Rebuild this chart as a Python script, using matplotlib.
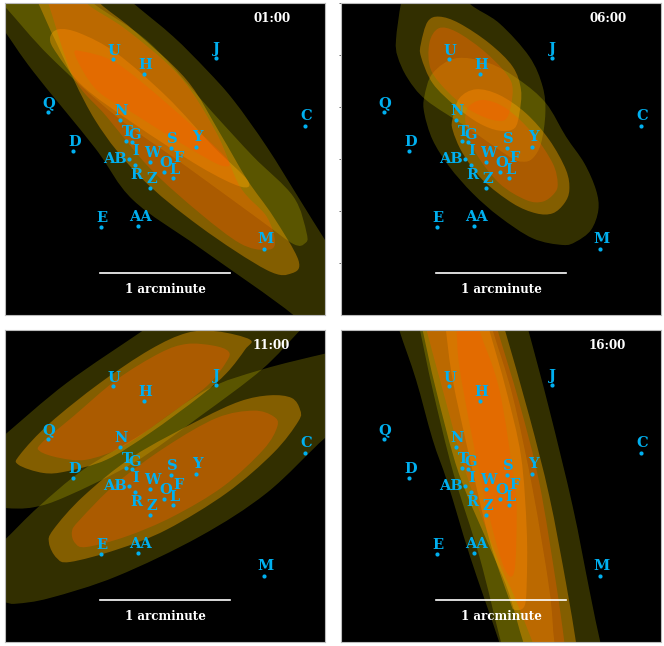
import numpy as np
import matplotlib
matplotlib.use("Agg")
import matplotlib.pyplot as plt
from matplotlib.path import Path
from matplotlib.patches import PathPatch

W, H = 664, 646
# all coordinates below are map units (1/3 of a pixel), x right, y down
SPAN_X, SPAN_Y = 960, 936

times = ["01:00", "06:00", "11:00", "16:00"]
origins = [(15, 10), (25, 10), (15, 22), (25, 22)]
corners = [(5, 3.3), (341, 3.3), (5, 330.3), (341, 330.3)]

# sources, measured on the first panel
star_names = ["U", "H", "J", "Q", "N", "C", "T", "G", "D", "S", "Y", "AB", "I", "W", "O", "L", "Z", "AA", "E", "M"]
star_x = [340, 432, 648, 143, 359, 915, 377, 395, 220, 513, 588, 388, 406, 451, 493, 519, 451, 415, 302, 793]
star_y = [178, 222, 173, 337, 361, 377, 423, 427, 454, 445, 441, 477, 495, 486, 515, 535, 564, 677, 680, 746]

label_names = ["U", "H", "J", "Q", "N", "C", "T", "G", "D", "S", "Y", "AB", "I", "W", "F", "O", "L", "R", "Z", "AA", "E", "M"]
label_x = [343, 436, 650, 147, 363, 919, 381, 405, 225, 516, 593, 346, 406, 456, 536, 496, 523, 410, 456, 420, 307, 797]
label_y = [152, 196, 148, 311, 333, 349, 395, 406, 427, 416, 412, 477, 454, 459, 474, 489, 509, 526, 537, 650, 653, 718]

# 01:00 contours
a_outer_1 = [(-100, -60), (320, -60), (400, 10), (520, 110), (620, 210), (700, 300), (800, 440), (900, 600), (975, 720), (1060, 850), (1120, 1040), (960, 1040), (880, 945), (600, 744), (399, 600), (285, 444), (100, 215), (15, 95), (-40, 20)]
a_outer_2 = [(-60, -60), (220, -60), (280, 10), (450, 130), (640, 340), (760, 470), (880, 590), (920, 700), (915, 730), (880, 732), (780, 660), (560, 500), (350, 350), (150, 170), (15, 20)]
a_mid_1 = [(170, 130), (115, 10), (85, -50), (260, -50), (300, 10), (400, 90), (560, 240), (660, 400), (742, 540), (820, 650), (895, 780), (875, 820), (800, 810), (600, 680), (420, 530), (285, 360)]
a_mid_2 = [(150, 115), (175, 88), (240, 100), (350, 160), (500, 290), (640, 440), (742, 540), (722, 560), (600, 500), (400, 370), (250, 260), (170, 160)]
a_inner_1 = [(220, 230), (145, 10), (120, -50), (240, -50), (260, 10), (380, 90), (540, 230), (650, 400), (720, 560), (800, 650), (825, 730), (795, 750), (720, 730), (600, 640), (450, 505), (320, 350)]
a_inner_2 = [(225, 165), (250, 155), (350, 190), (500, 310), (675, 470), (665, 497), (560, 440), (400, 340), (290, 270)]

# 06:00 contours
b_outer_1 = [(190, 120), (205, 10), (225, -60), (370, -60), (410, 10), (500, 70), (590, 170), (630, 260), (638, 340), (625, 430), (600, 475), (570, 485), (530, 470), (400, 380), (280, 300), (225, 235), (195, 170)]
b_outer_2 = [(275, 290), (300, 220), (370, 175), (470, 190), (560, 240), (640, 310), (700, 410), (755, 490), (790, 570), (797, 630), (775, 690), (730, 725), (690, 735), (600, 715), (500, 650), (420, 580), (350, 500), (300, 420), (275, 340)]
b_mid_1 = [(285, 65), (320, 50), (380, 70), (470, 130), (540, 200), (565, 270), (560, 340), (545, 385), (500, 392), (440, 370), (370, 320), (300, 250), (265, 170), (265, 130)]
b_mid_2 = [(360, 355), (380, 295), (430, 268), (500, 285), (580, 340), (650, 420), (700, 510), (710, 570), (695, 610), (660, 640), (610, 640), (540, 610), (450, 540), (390, 460), (360, 390)]
b_inner_1 = [(318, 85), (370, 95), (450, 150), (520, 220), (540, 270), (525, 350), (490, 362), (420, 335), (350, 280), (295, 210), (290, 130)]
b_inner_2 = [(405, 325), (450, 300), (520, 325), (600, 400), (660, 490), (675, 550), (665, 580), (630, 605), (580, 600), (500, 550), (430, 460), (400, 380)]

# 11:00 contours
c_outer_1 = [(15, 335), (200, 180), (430, 22), (520, -40), (960, -40), (900, 22), (785, 140), (600, 280), (400, 420), (200, 520), (100, 553), (15, 555), (-60, 540), (-60, 400)]
c_outer_2 = [(-60, 720), (15, 650), (115, 552), (250, 440), (430, 330), (620, 200), (785, 140), (975, 92), (1080, 70), (1080, 270), (975, 345), (800, 510), (600, 640), (350, 760), (150, 825), (50, 842), (15, 838), (-60, 820)]
c_mid_1 = [(55, 425), (60, 395), (150, 300), (300, 180), (450, 80), (560, 30), (650, 25), (750, 50), (735, 80), (680, 150), (600, 220), (450, 330), (320, 410), (200, 445), (130, 450)]
c_mid_2 = [(147, 660), (160, 620), (250, 520), (400, 400), (600, 290), (720, 235), (810, 217), (875, 225), (900, 260), (895, 295), (820, 390), (680, 510), (500, 620), (350, 680), (210, 717), (170, 705)]
c_inner_1 = [(120, 385), (125, 360), (220, 280), (350, 170), (480, 90), (560, 63), (640, 68), (685, 85), (680, 115), (620, 190), (500, 280), (370, 370), (260, 410), (180, 405)]
c_inner_2 = [(216, 625), (240, 590), (350, 480), (500, 370), (650, 285), (760, 263), (820, 280), (832, 310), (790, 380), (670, 490), (520, 580), (380, 640), (260, 672), (225, 660)]

# 16:00 contours
d_outer_1 = [(175, -70), (200, 22), (250, 170), (300, 350), (345, 480), (412, 700), (500, 958), (530, 1060), (685, 1060), (665, 958), (650, 800), (600, 500), (540, 220), (480, 22), (455, -70)]
d_outer_2 = [(240, -70), (262, 22), (300, 200), (362, 450), (440, 700), (505, 958), (535, 1060), (830, 1060), (803, 958), (770, 800), (720, 550), (650, 260), (587, 22), (560, -70)]
d_mid_1 = [(330, -70), (340, 22), (360, 170), (410, 400), (470, 650), (530, 830), (545, 860), (575, 850), (582, 780), (582, 620), (565, 400), (520, 200), (470, 22), (445, -70)]
d_mid_2 = [(250, -70), (270, 22), (310, 200), (378, 450), (470, 670), (525, 800), (572, 958), (610, 1060), (745, 1060), (730, 958), (700, 780), (650, 520), (590, 280), (517, 22), (490, -70)]
d_inner_1 = [(260, -70), (282, 22), (330, 200), (400, 450), (500, 720), (545, 820), (600, 958), (640, 1060), (705, 1060), (695, 958), (670, 780), (620, 480), (560, 240), (495, 22), (470, -70)]
d_inner_2 = [(365, -70), (372, 22), (380, 130), (420, 350), (470, 580), (515, 735), (545, 745), (552, 570), (545, 480), (500, 200), (440, 22), (415, -70)]

contours = [
    [a_outer_1, a_outer_2, a_mid_1, a_mid_2, a_inner_1, a_inner_2],
    [b_outer_1, b_outer_2, b_mid_1, b_mid_2, b_inner_1, b_inner_2],
    [c_outer_1, c_outer_2, c_mid_1, c_mid_2, c_inner_1, c_inner_2],
    [d_outer_1, d_outer_2, d_mid_1, d_mid_2, d_inner_1, d_inner_2],
]
# level colours, one pair of lobes per level
level_colors = ["#fff000", "#fff000", "#ffa500", "#ffa500", "#ff5500", "#ff5500"]
level_alpha = [0.2, 0.2, 0.4, 0.4, 0.33, 0.33]

BLUE = "#00b0f0"
SERIF = "DejaVu Serif"


def smooth_path(poly):
    # closed bezier running through the read contour points
    pts = np.array(poly, dtype=float)
    n = len(pts)
    verts = [pts[0]]
    codes = [Path.MOVETO]
    for k in range(n):
        p0, p1, p2, p3 = pts[k - 1], pts[k], pts[(k + 1) % n], pts[(k + 2) % n]
        verts += [p1 + (p2 - p0) / 6, p2 - (p3 - p1) / 6, p2]
        codes += [Path.CURVE4] * 3
    return Path(verts, codes)


fig = plt.figure(figsize=(W / 100, H / 100), dpi=100, facecolor="white")

for i in range(4):
    left, top = corners[i]
    x0, y0 = origins[i]
    ax = fig.add_axes([left / W, 1 - (top + 312) / H, 320 / W, 312 / H], facecolor="black")

    for poly, col, al in zip(contours[i], level_colors, level_alpha):
        ax.add_patch(PathPatch(smooth_path(poly), facecolor=col, alpha=al, lw=0))

    dx, dy = x0 - origins[0][0], y0 - origins[0][1]
    ax.scatter(np.array(star_x) + dx, np.array(star_y) + dy, s=9, c=BLUE, lw=0, zorder=5)
    for name, lx, ly in zip(label_names, label_x, label_y):
        ax.text(lx + dx, ly + dy, name, color=BLUE, fontsize=10.5, family=SERIF, weight="bold",
                ha="center", va="center", zorder=6)

    ax.plot([301 + dx, 689 + dx], [820 + dy, 820 + dy], color="white", lw=1.2, zorder=5)
    ax.text(495 + dx, 868 + dy, "1 arcminute", color="white", fontsize=8.6, family=SERIF,
            weight="bold", ha="center", va="center", zorder=6)
    ax.text(815 + dx, 56 + dy, times[i], color="white", fontsize=8.6, family=SERIF,
            weight="bold", ha="center", va="center", zorder=6)

    ax.set_xlim(x0, x0 + SPAN_X)
    ax.set_ylim(y0 + SPAN_Y, y0)
    ax.set_xticks([])
    ax.set_yticks([])
    if i == 1:
        ax.set_yticks([y0, 166, 322, 478, 634, 790])
        ax.set_yticklabels([])
        ax.tick_params(axis="y", length=1.2, width=0.7, color="#666666", pad=0)
    for s in ax.spines.values():
        s.set_color("#bbbbbb")
        s.set_linewidth(0.8)

fig.savefig("out.png", dpi=100, facecolor="white")
